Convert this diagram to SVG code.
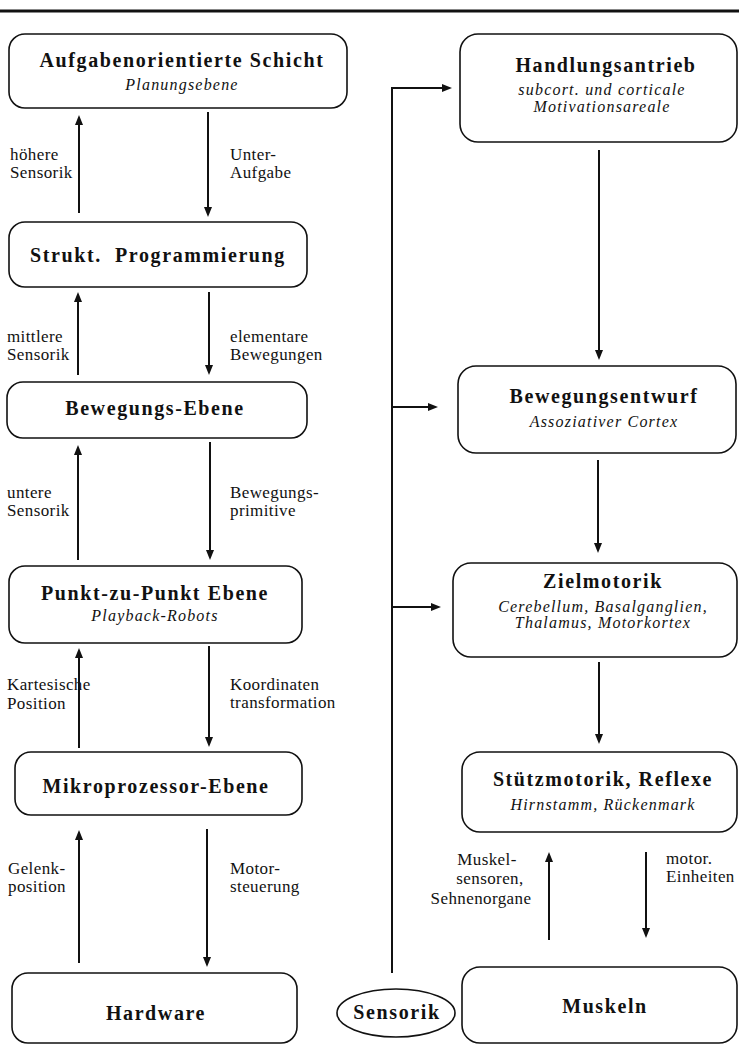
<svg xmlns="http://www.w3.org/2000/svg" width="739" height="1047" viewBox="0 0 739 1047">
<style>
  .box { fill: #fff; stroke: #111; stroke-width: 1.6; }
  .title { font-family: "Liberation Serif", "Times New Roman", serif; font-weight: bold; font-size: 20px; letter-spacing: 1.6px; fill: #111; text-anchor: middle; }
  .sub { font-family: "Liberation Serif", "Times New Roman", serif; font-style: italic; font-size: 16px; letter-spacing: 1.2px; fill: #111; text-anchor: middle; }
  .lbl { font-family: "Liberation Serif", "Times New Roman", serif; font-size: 17px; letter-spacing: 0.4px; fill: #111; }
  .con { fill: none; stroke: #111; stroke-width: 2; marker-end: url(#ah); }
</style>
<defs>
  <marker id="ah" viewBox="0 0 10 8" refX="2" refY="4" markerWidth="10" markerHeight="8" markerUnits="userSpaceOnUse" orient="auto">
    <path d="M0,0 L10,4 L0,8 z" fill="#111"/>
  </marker>
</defs>
<rect width="739" height="1047" fill="#fff"/>
<line x1="0" y1="11" x2="739" y2="11" stroke="#111" stroke-width="3"/>

<g id="connectors">
  <path class="con" d="M79,213 V123"/>
  <path class="con" d="M208,112 V209"/>
  <path class="con" d="M78,375 V300"/>
  <path class="con" d="M209,292 V367"/>
  <path class="con" d="M78,560 V453"/>
  <path class="con" d="M210,442 V552"/>
  <path class="con" d="M79,748 V656"/>
  <path class="con" d="M209,646 V739"/>
  <path class="con" d="M79,963 V838"/>
  <path class="con" d="M207,829 V959"/>
  <path class="con" d="M392,973 V88 H444"/>
  <path class="con" d="M392,407 H430"/>
  <path class="con" d="M392,607 H433"/>
  <path class="con" d="M599,150 V352"/>
  <path class="con" d="M598,460 V545"/>
  <path class="con" d="M599,662 V736"/>
  <path class="con" d="M549,940 V860"/>
  <path class="con" d="M646,852 V930"/>
</g>

<g id="labels">
  <text class="lbl" x="10" y="160">höhere</text>
  <text class="lbl" x="10" y="178">Sensorik</text>
  <text class="lbl" x="230" y="160">Unter-</text>
  <text class="lbl" x="230" y="178">Aufgabe</text>
  <text class="lbl" x="7" y="342">mittlere</text>
  <text class="lbl" x="7" y="360">Sensorik</text>
  <text class="lbl" x="230" y="342">elementare</text>
  <text class="lbl" x="230" y="360">Bewegungen</text>
  <text class="lbl" x="7" y="498">untere</text>
  <text class="lbl" x="7" y="516">Sensorik</text>
  <text class="lbl" x="230" y="498">Bewegungs-</text>
  <text class="lbl" x="230" y="516">primitive</text>
  <text class="lbl" x="7" y="690">Kartesische</text>
  <text class="lbl" x="7" y="709">Position</text>
  <text class="lbl" x="230" y="690">Koordinaten</text>
  <text class="lbl" x="230" y="708">transformation</text>
  <text class="lbl" x="8" y="874">Gelenk-</text>
  <text class="lbl" x="8" y="892">position</text>
  <text class="lbl" x="230" y="874">Motor-</text>
  <text class="lbl" x="230" y="892">steuerung</text>
  <text class="lbl" x="487" y="865" text-anchor="middle">Muskel-</text>
  <text class="lbl" x="490" y="884" text-anchor="middle">sensoren,</text>
  <text class="lbl" x="481" y="904" text-anchor="middle">Sehnenorgane</text>
  <text class="lbl" x="666" y="864">motor.</text>
  <text class="lbl" x="666" y="882">Einheiten</text>
</g>

<g id="n-aufgaben">
  <rect class="box" x="9" y="34" width="338" height="74" rx="16"/>
  <text class="title" x="182" y="67">Aufgabenorientierte Schicht</text>
  <text class="sub" x="182" y="90">Planungsebene</text>
</g>
<g id="n-strukt">
  <rect class="box" x="9" y="222" width="298" height="65" rx="16"/>
  <text class="title" x="158" y="262" xml:space="preserve">Strukt.  Programmierung</text>
</g>
<g id="n-bewegungsebene">
  <rect class="box" x="7" y="382" width="300" height="56" rx="16"/>
  <text class="title" x="155" y="415">Bewegungs-Ebene</text>
</g>
<g id="n-punkt">
  <rect class="box" x="9" y="566" width="293" height="77" rx="16"/>
  <text class="title" x="155" y="600">Punkt-zu-Punkt Ebene</text>
  <text class="sub" x="155" y="621">Playback-Robots</text>
</g>
<g id="n-mikro">
  <rect class="box" x="15" y="752" width="287" height="63" rx="16"/>
  <text class="title" x="156" y="793">Mikroprozessor-Ebene</text>
</g>
<g id="n-hardware">
  <rect class="box" x="12" y="973" width="285" height="70" rx="16"/>
  <text class="title" x="156" y="1020">Hardware</text>
</g>

<g id="n-handlung">
  <rect class="box" x="460" y="34" width="277" height="108" rx="18"/>
  <text class="title" x="606" y="72">Handlungsantrieb</text>
  <text class="sub" x="602" y="95">subcort. und corticale</text>
  <text class="sub" x="602" y="112">Motivationsareale</text>
</g>
<g id="n-entwurf">
  <rect class="box" x="458" y="366" width="278" height="87" rx="18"/>
  <text class="title" x="604" y="403">Bewegungsentwurf</text>
  <text class="sub" x="604" y="427">Assoziativer Cortex</text>
</g>
<g id="n-ziel">
  <rect class="box" x="453" y="563" width="284" height="94" rx="18"/>
  <text class="title" x="603" y="588">Zielmotorik</text>
  <text class="sub" x="603" y="612">Cerebellum, Basalganglien,</text>
  <text class="sub" x="603" y="628">Thalamus, Motorkortex</text>
</g>
<g id="n-stuetz">
  <rect class="box" x="462" y="752" width="275" height="80" rx="18"/>
  <text class="title" x="603" y="786">Stützmotorik, Reflexe</text>
  <text class="sub" x="603" y="810">Hirnstamm, Rückenmark</text>
</g>
<g id="n-muskeln">
  <rect class="box" x="462" y="967" width="275" height="76" rx="18"/>
  <text class="title" x="605" y="1013">Muskeln</text>
</g>
<g id="n-sensorik">
  <ellipse class="box" cx="396" cy="1013" rx="59" ry="24"/>
  <text class="title" x="397" y="1019">Sensorik</text>
</g>
</svg>
